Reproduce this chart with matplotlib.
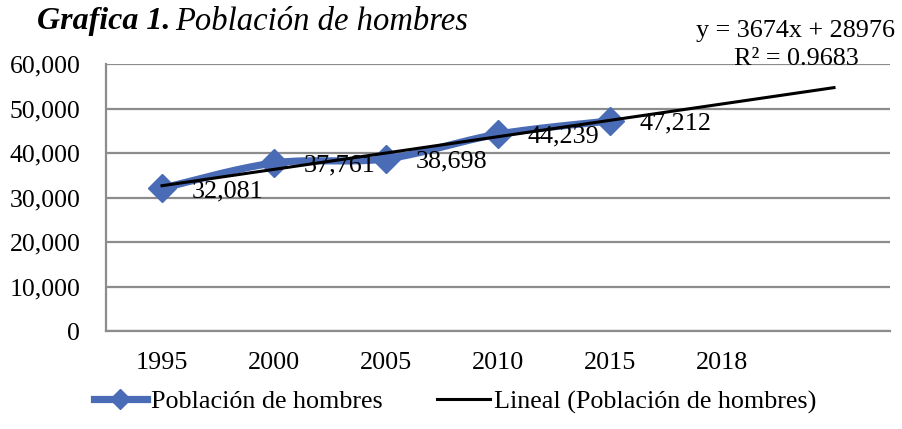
import numpy as np
import matplotlib
matplotlib.use("Agg")
import matplotlib.pyplot as plt
from matplotlib.lines import Line2D

categories = ["1995", "2000", "2005", "2010", "2015", "2018", ""]
values = [32081, 37761, 38698, 44239, 47212]
series_name = "Población de hombres"
trend_name = "Lineal (Población de hombres)"
yticks = [0, 10000, 20000, 30000, 40000, 50000, 60000]

plt.rcParams['font.family'] = ['Liberation Serif', 'DejaVu Serif']
FS = 18.8
BLUE = '#4A6CB6'
GRID = '#8C8C8C'

fig = plt.figure(figsize=(9.03, 4.29), dpi=100)
ax = fig.add_axes([0.1174, 0.2284, 0.9856 - 0.1174, 0.8508 - 0.2284])

x = np.arange(len(values))
y = np.array(values, dtype=float)

# Smoothed line (Excel-like Catmull-Rom Bezier)
P = np.column_stack([x, y]).astype(float)
pts = []
n = len(P)
for i in range(n - 1):
    p0 = P[i - 1] if i > 0 else P[i]
    p1 = P[i]
    p2 = P[i + 1]
    p3 = P[i + 2] if i + 2 < n else P[i + 1]
    c1 = p1 + (p2 - p0) / 6.0
    c2 = p2 - (p3 - p1) / 6.0
    t = np.linspace(0, 1, 40)[:, None]
    seg = (1 - t) ** 3 * p1 + 3 * (1 - t) ** 2 * t * c1 + 3 * (1 - t) * t ** 2 * c2 + t ** 3 * p2
    pts.append(seg if i == 0 else seg[1:])
pts = np.vstack(pts)
ax.plot(pts[:, 0], pts[:, 1], color=BLUE, lw=5.2, solid_capstyle='round', zorder=3)
ax.plot(x, y, linestyle='none', marker='D', markersize=14.5, color=BLUE, zorder=4)

# Linear trendline (fit on x = 1..n), extended forward
xs = np.arange(1, n + 1)
slope, intercept = np.polyfit(xs, y, 1)
xt = np.array([1, len(categories)])
yt = slope * xt + intercept
ax.plot(xt - 1, yt, color='black', lw=2.2, zorder=5)

# Data labels
for xi, yi in zip(x, y):
    ax.annotate(f"{int(yi):,}", (xi, yi), xytext=(21.5, -2), textcoords='offset points',
                ha='left', va='center', fontsize=FS, color='black', zorder=6)

# Equation
ss_res = np.sum((y - (slope * xs + intercept)) ** 2)
ss_tot = np.sum((y - y.mean()) ** 2)
r2 = 1 - ss_res / ss_tot
fig.text(796 / 903, 1 - 45 / 429, f"y = {slope:.0f}x + {intercept:.0f}\nR² = {r2:.4f}",
         ha='center', va='center', fontsize=FS, multialignment='center', linespacing=1.35)

ax.set_xlim(-0.5, len(categories) - 0.5)
ax.set_ylim(0, 60000)
ax.set_xticks(np.arange(len(categories)))
ax.set_xticklabels(categories, fontsize=FS)
ax.set_yticks(yticks)
ax.set_yticklabels([f"{v:,}" for v in yticks], fontsize=18.5)
ax.tick_params(axis='both', length=0)
ax.tick_params(axis='x', pad=15)
ax.tick_params(axis='y', pad=18.5)
ax.grid(axis='y', color=GRID, lw=1.6, zorder=0)
ax.set_axisbelow(True)
for s in ['top', 'right']:
    ax.spines[s].set_visible(False)
for s in ['left', 'bottom']:
    ax.spines[s].set_color(GRID)
    ax.spines[s].set_linewidth(1.6)

# Title
fig.text(37 / 903, 1 - 22 / 429, "Grafica 1.", fontsize=23, fontweight='bold', fontstyle='italic',
         ha='left', va='center')
fig.text(175 / 903, 1 - 22 / 429, "Población de hombres", fontsize=23.5, fontstyle='italic',
         ha='left', va='center')

handles = [Line2D([], [], color=BLUE, lw=5.2, marker='D', markersize=10),
           Line2D([], [], color='black', lw=2.2)]
fig.legend(handles, [series_name, trend_name], loc='center', bbox_to_anchor=(455 / 903, 1 - 402 / 429),
           ncol=2, frameon=False, fontsize=FS, handlelength=2.03, handletextpad=0.15,
           columnspacing=2.1, borderaxespad=0)

fig.savefig("out.png", dpi=100)
